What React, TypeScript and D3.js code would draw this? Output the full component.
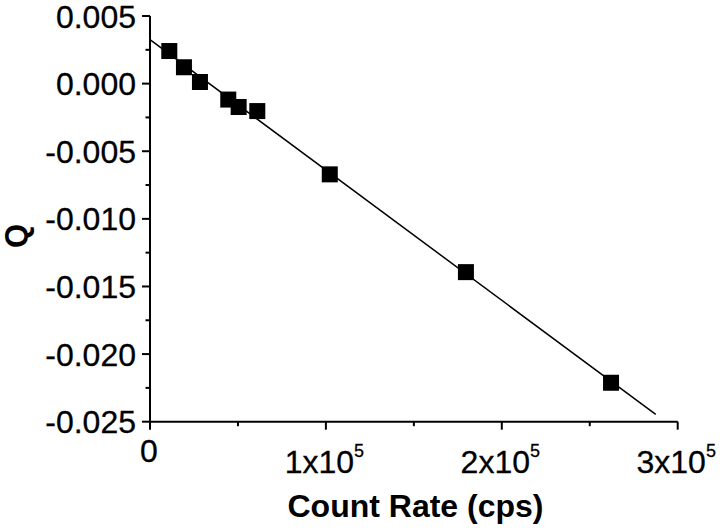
import React from "react";
import * as d3 from "d3";

// Data
const countRate = [10970, 19300, 28400, 44500, 50400, 61000, 102200, 179600, 262100];
const qValues = [0.00241, 0.00121, 0.00012, -0.00118, -0.00173, -0.00203, -0.00671, -0.01394, -0.02212];

// Linear fit line endpoints
const fitX = [0, 287500];
const fitY = [0.00325, -0.02446];

const xMajorTicks = [0, 100000, 200000, 300000];
const xMinorTicks = [50000, 150000, 250000];
const xTickMantissa = ["0", "1", "2", "3"];
const yMajorTicks = [0.005, 0, -0.005, -0.01, -0.015, -0.02, -0.025];
const yMinorTicks = [0.0025, -0.0025, -0.0075, -0.0125, -0.0175, -0.0225];

const W = 720;
const H = 531;
const FONT = "'Liberation Sans', Arial, Helvetica, sans-serif";

export default function App() {
  const x = d3.scaleLinear().domain([0, 300000]).range([150, 677.7]);
  const y = d3.scaleLinear().domain([-0.025, 0.005]).range([421.7, 16]);
  const fmt = (v: number) => d3.format(".3f")(v).replace("\u2212", "-");
  const line = d3
    .line<number>()
    .x((_, i) => x(fitX[i]))
    .y((d) => y(d));
  const sq = 16;
  const x0 = x(0);
  const yBottom = y(-0.025);

  return (
    <svg
      width={W}
      height={H}
      style={{ position: "absolute", left: 0, top: 0, background: "#fff" }}
      fontFamily={FONT}
    >
      <rect x={0} y={0} width={W} height={H} fill="#fff" />
      {/* fit line */}
      <path d={line(fitY) || ""} fill="none" stroke="#000" strokeWidth={1.5} />
      {/* points */}
      {countRate.map((c, i) => (
        <rect
          key={i}
          x={x(c) - sq / 2}
          y={y(qValues[i]) - sq / 2}
          width={sq}
          height={sq}
          fill="#000"
        />
      ))}
      {/* axes */}
      <line x1={x0} x2={x0} y1={y(0.005)} y2={yBottom} stroke="#000" strokeWidth={2} />
      <line x1={x0} x2={x(300000)} y1={yBottom} y2={yBottom} stroke="#000" strokeWidth={2} />
      {yMajorTicks.map((t) => (
        <g key={"ym" + t}>
          <line x1={x0 - 8} x2={x0} y1={y(t)} y2={y(t)} stroke="#000" strokeWidth={2} />
          <text x={136} y={y(t)} dy="0.36em" textAnchor="end" fontSize={32} fill="#000" stroke="#000" strokeWidth={0.3}>
            {fmt(t)}
          </text>
        </g>
      ))}
      {yMinorTicks.map((t) => (
        <line key={"yn" + t} x1={x0 - 4.5} x2={x0} y1={y(t)} y2={y(t)} stroke="#000" strokeWidth={2} />
      ))}
      {xMajorTicks.map((t, i) => (
        <g key={"xm" + t}>
          <line x1={x(t)} x2={x(t)} y1={yBottom} y2={yBottom + 8} stroke="#000" strokeWidth={2} />
          {t === 0 ? (
            <text x={x(t) - 1} y={461.7} textAnchor="middle" fontSize={32} fill="#000" stroke="#000" strokeWidth={0.3}>
              0
            </text>
          ) : (
            <text x={x(t) - 1.5} y={472.7} textAnchor="middle" fontSize={32} fill="#000" stroke="#000" strokeWidth={0.3}>
              {xTickMantissa[i] + "x10"}
              <tspan fontSize={18} dy={-16}>5</tspan>
            </text>
          )}
        </g>
      ))}
      {xMinorTicks.map((t) => (
        <line key={"xn" + t} x1={x(t)} x2={x(t)} y1={yBottom} y2={yBottom + 4.5} stroke="#000" strokeWidth={2} />
      ))}
      {/* axis titles */}
      <text x={415.5} y={516.7} textAnchor="middle" fontSize={32} fontWeight="bold" fill="#000">
        Count Rate (cps)
      </text>
      <text
        transform={`translate(27,236) rotate(-90)`}
        textAnchor="middle"
        fontSize={31}
        fontWeight="bold"
        fill="#000"
      >
        Q
      </text>
    </svg>
  );
}
